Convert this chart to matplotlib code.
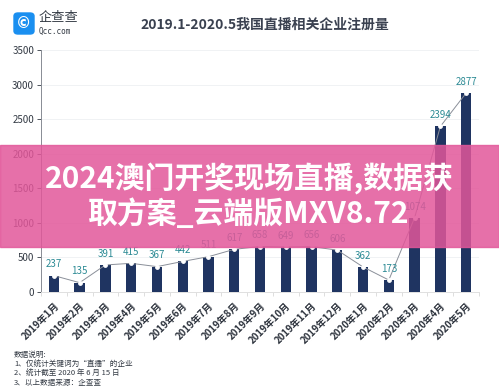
import matplotlib.pyplot as plt
import numpy as np
from matplotlib.patches import FancyBboxPatch, Rectangle

plt.rcParams['font.family'] = ['Noto Sans CJK SC', 'DejaVu Sans']

months = ['2019年1月', '2019年2月', '2019年3月', '2019年4月', '2019年5月', '2019年6月',
          '2019年7月', '2019年8月', '2019年9月', '2019年10月', '2019年11月', '2019年12月',
          '2020年1月', '2020年2月', '2020年3月', '2020年4月', '2020年5月']
counts = [237, 135, 391, 415, 367, 442, 511, 617, 658, 649, 656, 606, 362, 173, 1074, 2394, 2877]
yticks = [0, 500, 1000, 1500, 2000, 2500, 3000, 3500]

title = '2019.1-2020.5我国直播相关企业注册量'
notes = ['数据说明:', '1、仅统计关键词为“直播”的企业', '2、统计截至 2020 年 6 月 15 日', '3、以上数据来源：企查查']
banner = '2024澳门开奖现场直播,数据获\n取方案_云端版MXV8.72'

W, H = 499, 392
fig = plt.figure(figsize=(W / 100, H / 100), dpi=100)
ax = fig.add_axes([41 / W, 1 - 292 / H, (479 - 41) / W, (292 - 50) / H])

x = np.arange(len(counts))
ax.bar(x, counts, width=0.4, color='#1f3461', zorder=2)
ax.plot(x, counts, color='#8a8f99', lw=0.7, zorder=3)
ax.scatter(x, counts, s=6, color='white', zorder=4)
for xi, v in zip(x, counts):
    ax.text(xi, v + 90, str(v), ha='center', va='bottom', fontsize=7, color='#2b8a94', zorder=5)

ax.set_xlim(-0.5, len(counts) - 0.5)
ax.set_ylim(0, 3500)
ax.set_yticks(yticks)
ax.tick_params(axis='y', labelsize=7, colors='#333a44', length=3, width=0.6, pad=2)
ax.set_xticks(x)
ax.set_xticklabels(months, rotation=45, ha='right', rotation_mode='anchor', fontsize=7,
                   color='#2c323c', fontweight='bold')
ax.set_xticks(np.arange(-0.5, len(counts)), minor=True)
ax.tick_params(axis='x', which='major', length=0, pad=6)
ax.tick_params(axis='x', which='minor', length=3, color='#d8d8d8')
ax.grid(axis='y', color='#eef0f3', lw=0.6, zorder=0)
for s in ['top', 'right']:
    ax.spines[s].set_visible(False)
ax.spines['left'].set_color('#888c94')
ax.spines['left'].set_linewidth(0.7)
ax.spines['bottom'].set_color('#e0e0e0')
ax.spines['bottom'].set_linewidth(0.7)

fig.text(265 / W, 1 - 25 / H, title, ha='center', va='center', fontsize=10,
         fontweight='bold', color='#3a4150')

# logo
fig.patches.append(FancyBboxPatch((14 / W, 1 - 34 / H), 20 / W, 21 / H,
                                  boxstyle='round,pad=0,rounding_size=0.008',
                                  transform=fig.transFigure, color='#1a8ff0'))
fig.text(24 / W, 1 - 23.5 / H, '©', ha='center', va='center', fontsize=11,
         color='white', family='DejaVu Sans', fontweight='bold')
fig.text(39 / W, 1 - 18 / H, '企查查', ha='left', va='center', fontsize=9.5, color='#333a44')
fig.text(39 / W, 1 - 31 / H, 'Qcc.com', ha='left', va='center', fontsize=5.5,
         color='#333a44', family='DejaVu Sans Mono')

for i, line in enumerate(notes):
    fig.text(14 / W, 1 - (355 + i * 9.5) / H, line, ha='left', va='center',
             fontsize=5.5, color='#333a44')

# overlay banner
fig.patches.append(Rectangle((0, 1 - 247 / H), 1, 102 / H, transform=fig.transFigure,
                             color='#e2579a', alpha=0.85, zorder=10))
fig.text(249 / W, 1 - 196 / H, banner, ha='center', va='center', fontsize=21.5,
         fontweight='bold', color='white', linespacing=1.15, zorder=11)

fig.savefig('out.png', dpi=100)
